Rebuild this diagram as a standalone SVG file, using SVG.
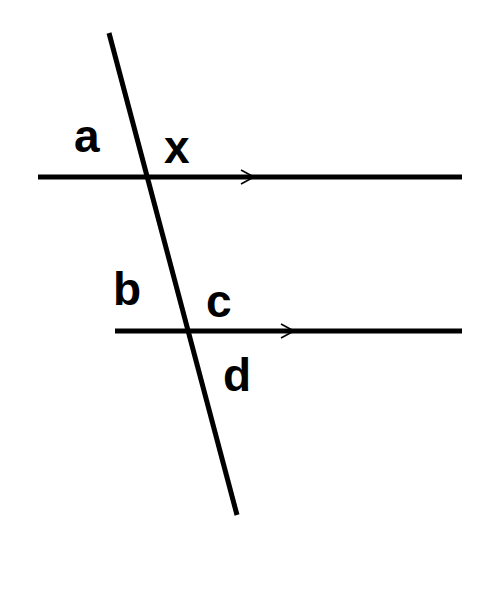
<svg xmlns="http://www.w3.org/2000/svg" width="502" height="599" viewBox="0 0 502 599">
<style>
.ln{stroke:#000;stroke-width:5;fill:none}
.ch{stroke:#000;stroke-width:1.6;fill:none}
.lb{font-family:"Liberation Sans",Arial,sans-serif;font-weight:bold;font-size:46px;fill:#000}
</style>
<rect width="502" height="599" fill="#fff"/>
<g id="connectors">
<line class="ln" x1="38" y1="177" x2="462" y2="177"/>
<line class="ln" x1="115" y1="331" x2="462" y2="331"/>
<line class="ln" x1="109" y1="33" x2="237" y2="515"/>
<polyline class="ch" points="241,170 254,177 241,184"/>
<polyline class="ch" points="281,324 294,331 281,338"/>
</g>
<g id="label-a"><text class="lb" x="74" y="152">a</text></g>
<g id="label-x"><text class="lb" x="164" y="163">x</text></g>
<g id="label-b"><text class="lb" x="113" y="305">b</text></g>
<g id="label-c"><text class="lb" x="206" y="317">c</text></g>
<g id="label-d"><text class="lb" x="223" y="391">d</text></g>
</svg>
